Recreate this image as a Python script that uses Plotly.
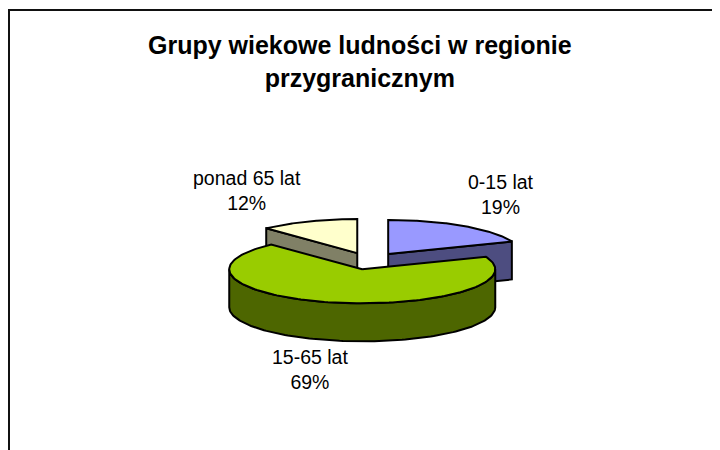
import numpy as np
import plotly.graph_objects as go

# ---- data ----
categories = ["0-15 lat", "15-65 lat", "ponad 65 lat"]
shares = [19, 69, 12]          # percent of population
title_lines = ["Grupy wiekowe ludności w regionie", "przygranicznym"]

# ---- styles ----
top_colors = ["#9999FF", "#99CC00", "#FFFFCC"]
side_colors = ["#4D4D80", "#4D6600", "#808066"]
FONT = "Liberation Sans, Arial, sans-serif"

W, H = 720, 450
OFF = 8                  # page body margin; axes are set so data units = screen pixels
CX, CY = 369.5, 261      # pie centre (pixel space)
RX, RY = 133, 34         # ellipse radii of the tilted pie
DEPTH = 38               # thickness of the pie
EXPLODE = 0.25           # explosion as fraction of radius
GAP = 14                 # label distance from rim
LABEL_NUDGE = [(-5, -6), (-20, 10), (0, -8)]   # (xshift, yshift) per label

fig = go.Figure()

total = float(sum(shares))
slices = []
start = 0.0
for i, v in enumerate(shares):
    a0 = start
    a1 = start + v / total * 2 * np.pi
    start = a1
    mid = 0.5 * (a0 + a1)
    ox = CX + EXPLODE * RX * np.sin(mid)
    oy = CY - EXPLODE * RY * np.cos(mid)
    slices.append(dict(i=i, a0=a0, a1=a1, mid=mid, ox=ox, oy=oy))


def rim(s, a, dz=0.0):
    return s["ox"] + RX * np.sin(a), s["oy"] - RY * np.cos(a) + dz


def poly(xs, ys, fill):
    fig.add_trace(go.Scatter(
        x=list(xs) + [xs[0]], y=list(ys) + [ys[0]], mode="lines",
        fill="toself", fillcolor=fill,
        line=dict(color="black", width=2),
        hoverinfo="skip", showlegend=False))


for s in sorted(slices, key=lambda d: d["oy"]):
    i = s["i"]
    a0, a1 = s["a0"], s["a1"]
    # radial cut faces
    for a, vis in ((a0, np.sin(a0) < -1e-6), (a1, np.sin(a1) > 1e-6)):
        if vis:
            x1, y1 = rim(s, a)
            poly([s["ox"], x1, x1, s["ox"]],
                 [s["oy"], y1, y1 + DEPTH, s["oy"] + DEPTH], side_colors[i])
    # outer front wall
    w0, w1 = max(a0, np.pi / 2), min(a1, 3 * np.pi / 2)
    if w1 > w0:
        t = np.linspace(w0, w1, 120)
        xt, yt = rim(s, t)
        xs = np.concatenate([xt, xt[::-1]])
        ys = np.concatenate([yt, (yt + DEPTH)[::-1]])
        poly(xs, ys, side_colors[i])
    # top face
    t = np.linspace(a0, a1, 160)
    xt, yt = rim(s, t)
    poly(np.concatenate([[s["ox"]], xt]), np.concatenate([[s["oy"]], yt]),
         top_colors[i])

annotations = []
for s in slices:
    i = s["i"]
    sn, cs = np.sin(s["mid"]), np.cos(s["mid"])
    px = s["ox"] + (RX + GAP) * sn
    py = s["oy"] - (RY + GAP) * cs + (DEPTH if cs < 0 else 0)
    xa = "left" if sn > 0.3 else ("right" if sn < -0.3 else "center")
    ya = "bottom" if cs > 0 else "top"
    annotations.append(dict(
        x=px, y=py, xref="x", yref="y", xanchor=xa, yanchor=ya,
        xshift=LABEL_NUDGE[i][0], yshift=LABEL_NUDGE[i][1],
        text=f"{categories[i]}<br>{shares[i]}%", showarrow=False,
        align="center", font=dict(family=FONT, size=19.5, color="black")))

annotations.append(dict(
    x=360, y=61.5, xref="x", yref="y", xanchor="center", yanchor="middle",
    text="<b>" + "<br>".join(title_lines) + "</b>", showarrow=False,
    align="center", font=dict(family=FONT, size=25, color="black")))

fig.update_layout(
    width=W, height=H, autosize=False,
    margin=dict(l=0, r=0, t=0, b=0),
    paper_bgcolor="white", plot_bgcolor="white",
    xaxis=dict(range=[OFF, W + OFF], visible=False, fixedrange=True),
    yaxis=dict(range=[H + OFF, OFF], visible=False, fixedrange=True),
    annotations=annotations,
    shapes=[dict(type="rect", xref="x", yref="y", x0=9, y0=10, x1=W + 40,
                 y1=H + 40, line=dict(color="#111111", width=2),
                 fillcolor="rgba(0,0,0,0)", layer="below")],
)

fig.write_html("out.html")
